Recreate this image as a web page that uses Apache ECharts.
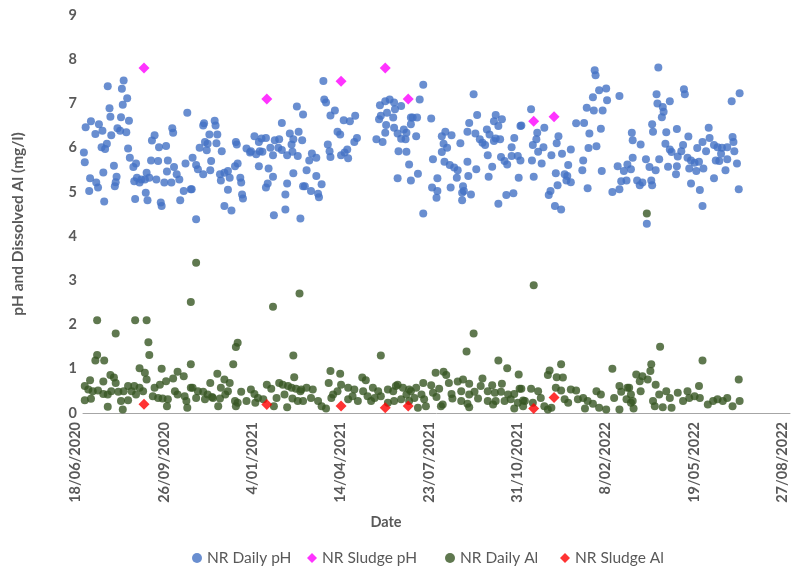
<!DOCTYPE html>
<html>
<head>
<meta charset="utf-8">
<script src="https://cdn.jsdelivr.net/npm/echarts@6/dist/echarts.min.js"></script>
<style>
html,body{margin:0;padding:0;background:#fff;}
#chart{width:797px;height:566px;}
</style>
</head>
<body>
<div id="chart"></div>
<script>
// x values are days since 18/06/2020
const baseDateUTC = Date.UTC(2020, 5, 18);
const xTickDays = [0, 100, 200, 300, 400, 500, 600, 700, 800];
const yTicks = [0, 1, 2, 3, 4, 5, 6, 7, 8, 9];
const seriesNames = ["NR Daily pH", "NR Sludge pH", "NR Daily Al", "NR Sludge Al"];

const dailyPH = [
[46,7.52],[28,7.39],[44,7.33],[50,7.12],[45,6.97],[30,6.89],[118,6.79],[31,6.70],[43,6.69],[52,6.61],[9,6.60],[3,6.46],[18,6.53],[22,6.38],[14,6.31],[39,6.44],[42,6.38],[49,6.35],[32,6.28],[101,6.44],[102,6.34],[81,6.28],[78,6.16],[27,6.09],[21,6.01],[25,5.97],[86,6.01],[94,6.04],[51,5.98],[1,5.89],[53,5.77],[2,5.67],[35,5.59],[60,5.64],[57,5.56],[77,5.71],[85,5.70],[96,5.71],[116,5.64],[103,5.56],[95,5.46],[23,5.44],[8,5.31],[38,5.34],[37,5.22],[15,5.21],[17,5.10],[7,5.02],[36,5.13],[58,5.24],[64,5.21],[72,5.43],[70,5.28],[75,5.32],[83,5.28],[92,5.21],[106,5.40],[109,5.28],[100,5.21],[66,5.28],[61,5.32],[71,4.98],[114,5.02],[122,5.06],[59,4.84],[73,4.81],[88,4.76],[89,4.68],[24,4.78],[110,4.81],
[242,6.93],[249,6.75],[137,6.55],[136,6.50],[149,6.61],[150,6.50],[225,6.56],[143,6.30],[152,6.30],[132,6.00],[138,6.13],[141,6.09],[151,6.10],[140,5.94],[157,5.92],[173,6.13],[174,6.07],[185,5.98],[189,5.89],[190,5.92],[196,5.85],[200,5.92],[194,6.26],[199,6.13],[202,6.21],[207,6.22],[203,5.91],[212,6.00],[215,5.83],[217,6.17],[222,6.19],[221,6.00],[225,5.95],[231,5.83],[234,6.32],[238,6.19],[236,6.07],[237,5.91],[244,6.36],[243,5.81],[248,6.17],
[124,5.77],[128,5.61],[130,5.51],[136,5.40],[145,5.70],[144,5.49],[155,5.40],[160,5.43],[164,5.47],[166,5.32],[156,5.26],[172,5.58],[175,5.64],[178,5.32],[179,5.21],[164,5.05],[180,4.94],[181,4.85],[199,5.58],[210,5.53],[215,5.34],[209,5.19],[207,5.10],[231,5.19],[238,5.42],[229,4.94],[123,5.06],[160,4.68],[168,4.58],[128,4.38],[216,4.47],[229,4.60],[246,4.40],[249,5.13],
[272,7.51],[273,7.09],[275,7.02],[285,6.84],[280,6.73],[295,6.62],[302,6.60],[308,6.72],[288,6.36],[291,6.30],[310,6.22],[307,6.13],[277,6.07],[279,5.92],[280,5.79],[259,5.87],[256,5.71],[264,5.77],[292,5.83],[299,5.96],[300,5.76],[296,5.89],[253,5.49],[264,5.36],[251,5.13],[258,5.02],[266,4.96],[267,4.88],[270,5.17],
[336,6.96],[342,7.05],[347,7.09],[352,7.02],[360,6.94],[353,6.87],[337,6.72],[335,6.64],[344,6.79],[351,6.68],[371,6.68],[343,6.51],[352,6.45],[342,6.34],[332,6.19],[339,6.13],[356,6.32],[360,6.20],[363,6.41],[366,6.34],[365,6.19],[371,6.53],[357,5.92],[366,5.91],[369,5.62],[356,5.31],[371,5.26],
[385,7.42],[381,7.09],[442,7.21],[373,6.68],[378,6.68],[394,6.66],[377,6.26],[396,5.74],[406,6.26],[410,6.36],[417,6.28],[408,6.09],[412,6.00],[406,5.90],[427,6.10],[409,5.68],[415,5.61],[420,5.55],[424,5.49],[423,5.32],[435,5.68],[436,5.36],[445,5.51],[401,5.31],[395,5.10],[401,5.02],[400,4.87],[416,5.10],[430,5.13],[431,5.02],[429,4.98],[439,4.94],[429,4.81],[437,6.56],[446,6.74],[435,6.36],[444,6.32],[449,6.19],[452,6.11],[455,6.06],[458,5.83],[457,6.41],[460,6.30],[465,6.60],[467,6.74],[474,6.64],[470,6.49],[465,6.15],[467,6.21],[472,6.19],[488,6.22],[485,6.01],[495,6.49],[463,5.57],[459,5.34],[473,5.79],[477,5.70],[480,5.62],[485,5.81],[492,5.81],[495,5.71],[493,5.32],[479,4.93],[487,4.97],[470,4.73],[379,5.41],[385,4.51],
[579,7.75],[580,7.64],[584,7.30],[592,7.34],[577,7.14],[593,7.07],[607,7.17],[570,6.90],[578,6.84],[588,6.84],[507,6.87],[496,6.50],[522,6.45],[514,6.34],[558,6.55],[567,6.56],[573,6.32],[586,6.43],[538,6.26],[536,6.10],[513,6.19],[509,6.06],[521,6.01],[515,5.91],[530,5.83],[542,5.86],[552,5.96],[572,5.99],[581,6.03],[508,5.71],[519,5.64],[549,5.61],[566,5.71],[565,5.49],[587,5.47],[510,5.34],[535,5.42],[545,5.40],[548,5.36],[547,5.26],[552,5.22],[537,5.15],[529,5.02],[527,4.93],[571,5.08],[534,4.68],[541,4.60],[605,5.58],[612,5.47],[616,5.62],[620,5.51],[609,5.24],[615,5.26],[607,5.06],[599,5.00],[621,6.34],[622,6.17],
[651,7.81],[680,7.32],[681,7.21],[649,7.21],[664,7.05],[650,7.00],[656,6.92],[657,6.81],[655,6.69],[734,7.05],[743,7.23],[644,6.53],[645,6.36],[631,6.07],[660,6.35],[672,6.42],[685,6.25],[659,6.09],[664,5.96],[666,5.90],[679,6.06],[677,5.92],[673,5.80],[708,6.45],[709,6.22],[701,6.13],[705,5.92],[714,6.06],[718,6.01],[723,6.00],[729,6.01],[735,6.24],[736,6.13],[737,5.92],[722,5.86],[729,5.74],[740,5.64],[716,5.71],[720,5.70],[695,5.99],[684,5.77],[688,5.71],[692,5.66],[697,5.68],[686,5.53],[694,5.47],[702,5.53],[622,5.77],[637,5.74],[652,5.74],[641,5.56],[648,5.49],[662,5.57],[672,5.58],[671,5.40],[627,5.26],[633,5.21],[643,5.26],[644,5.15],[630,5.15],[688,5.19],[698,5.04],[701,4.68],[714,5.31],[727,5.49],[742,5.06],[638,4.28]
];

const sludgePH = [[69,7.8],[208,7.1],[292,7.5],[342,7.8],[368,7.1],[510,6.6],[533,6.7]];

const dailyAl = [
[122,2.51],[16,2.10],[59,2.10],[72,2.10],[37,1.80],[74,1.60],[75,1.31],[16,1.31],[14,1.19],[24,1.19],[122,1.10],[64,1.01],[70,0.91],[72,0.76],[89,1.00],[107,0.93],[114,0.83],[31,0.86],[35,0.80],[37,0.68],[23,0.71],[8,0.74],[2,0.61],[102,0.78],[94,0.72],[87,0.64],[81,0.57],[51,0.61],[58,0.61],[64,0.57],[46,0.49],[6,0.53],[11,0.49],[17,0.51],[23,0.43],[32,0.49],[40,0.48],[28,0.42],[2,0.29],[9,0.32],[28,0.14],[43,0.27],[45,0.08],[51,0.29],[79,0.38],[85,0.34],[90,0.33],[96,0.31],[95,0.15],[104,0.49],[107,0.42],[115,0.38],[117,0.27],[118,0.12],[122,0.57],[55,0.49],[60,0.42],[68,0.49],
[128,3.40],[215,2.40],[245,2.70],[175,1.59],[173,1.49],[170,1.10],[238,1.30],[239,0.81],[152,0.89],[160,0.76],[166,0.68],[144,0.68],[124,0.57],[130,0.49],[136,0.48],[141,0.42],[146,0.36],[156,0.57],[161,0.42],[164,0.49],[179,0.48],[190,0.53],[194,0.43],[208,0.64],[213,0.55],[222,0.68],[226,0.64],[232,0.61],[236,0.57],[241,0.55],[246,0.49],[128,0.34],[138,0.31],[147,0.34],[155,0.33],[172,0.27],[175,0.23],[185,0.27],[198,0.34],[204,0.31],[219,0.34],[228,0.42],[237,0.33],[243,0.27],[153,0.15],[173,0.15],[195,0.23],[231,0.13],[216,0.15],
[337,1.30],[280,0.95],[291,0.89],[278,0.68],[292,0.64],[316,0.80],[320,0.74],[356,0.64],[247,0.53],[253,0.57],[260,0.53],[283,0.42],[288,0.49],[300,0.57],[307,0.53],[317,0.49],[328,0.57],[334,0.49],[345,0.53],[351,0.49],[354,0.61],[362,0.57],[369,0.53],[249,0.27],[258,0.34],[266,0.27],[270,0.15],[275,0.10],[281,0.34],[300,0.31],[305,0.38],[311,0.27],[322,0.38],[326,0.27],[330,0.34],[337,0.38],[345,0.23],[352,0.27],[360,0.31],[366,0.42],[369,0.27],
[442,1.80],[434,1.39],[470,1.19],[480,1.01],[493,0.87],[399,0.91],[408,0.93],[411,0.86],[414,0.68],[385,0.68],[377,0.57],[394,0.63],[403,0.55],[424,0.71],[430,0.76],[437,0.66],[452,0.78],[463,0.63],[474,0.66],[494,0.55],[371,0.49],[383,0.42],[396,0.46],[417,0.43],[428,0.49],[437,0.42],[443,0.48],[450,0.61],[458,0.49],[466,0.46],[473,0.48],[481,0.42],[488,0.43],[375,0.34],[386,0.31],[400,0.36],[407,0.19],[418,0.33],[428,0.27],[435,0.21],[447,0.33],[458,0.27],[467,0.27],[477,0.27],[484,0.31],[492,0.23],[498,0.28],[379,0.12],[388,0.15],[405,0.15],[437,0.13],[464,0.19],[488,0.10],
[510,2.89],[541,1.10],[599,1.00],[528,0.96],[526,0.86],[536,0.81],[543,0.80],[496,0.55],[507,0.55],[515,0.49],[535,0.57],[541,0.51],[552,0.53],[558,0.51],[581,0.49],[586,0.42],[607,0.61],[616,0.57],[609,0.48],[500,0.27],[509,0.23],[518,0.34],[522,0.15],[530,0.12],[545,0.31],[549,0.23],[560,0.31],[566,0.34],[571,0.27],[577,0.21],[584,0.12],[592,0.08],[601,0.34],[607,0.08],[615,0.31],[620,0.23],[498,0.15],[526,0.08],[568,0.10],
[653,1.50],[701,1.19],[742,0.76],[643,1.10],[642,0.95],[626,0.87],[633,0.83],[630,0.72],[639,0.76],[648,0.64],[631,0.49],[618,0.57],[620,0.42],[622,0.27],[623,0.10],[645,0.27],[647,0.15],[652,0.42],[656,0.13],[660,0.49],[664,0.34],[666,0.12],[673,0.46],[679,0.27],[684,0.49],[686,0.34],[692,0.38],[697,0.61],[698,0.34],[707,0.19],[713,0.27],[718,0.31],[724,0.27],[729,0.34],[735,0.15],[743,0.27],[638,4.51]
];

const sludgeAl = [[69,0.2],[208,0.19],[292,0.16],[342,0.12],[368,0.16],[510,0.1],[533,0.35]];

function fmtDay(v) {
  const d = new Date(baseDateUTC + v * 86400000);
  const dd = d.getUTCDate();
  const mm = String(d.getUTCMonth() + 1).padStart(2, '0');
  return '{b|' + dd + '/' + mm + '/' + d.getUTCFullYear() + '}';
}

const FONT = 'Lato';
const TXT = '#595959';
const legendLefts = [187, 302, 440, 555];
const boldRich = {b: {fontFamily: FONT, fontWeight: 'bold', fontSize: 14.5, color: TXT}};

const chart = echarts.init(document.getElementById('chart'), null, {renderer: 'canvas'});
chart.setOption({
  animation: false,
  backgroundColor: '#ffffff',
  textStyle: {fontFamily: FONT},
  grid: {left: 83, right: 7, top: 15, bottom: 153, containLabel: false},
  xAxis: {
    type: 'value',
    min: xTickDays[0], max: xTickDays[xTickDays.length - 1], interval: 100,
    axisLine: {show: true, lineStyle: {color: '#A6A6A6', width: 1}},
    axisTick: {show: false},
    splitLine: {show: false},
    axisLabel: {
      rotate: 90, margin: 9, color: TXT, fontSize: 14.5, fontWeight: 'bold', fontFamily: FONT,
      verticalAlign: 'bottom',
      formatter: fmtDay,
      rich: boldRich
    }
  },
  yAxis: {
    type: 'value', min: yTicks[0], max: yTicks[yTicks.length - 1], interval: 1,
    axisLine: {show: false}, axisTick: {show: false}, splitLine: {show: false},
    axisLabel: {color: TXT, fontSize: 14.5, fontWeight: 'bold', fontFamily: FONT, margin: 6,
      formatter: v => '{b|' + v + '}', rich: boldRich}
  },
  legend: seriesNames.map((n, i) => ({
    data: [n], left: legendLefts[i], top: 545, itemWidth: 10, itemHeight: 10,
    textStyle: {color: TXT, fontSize: 15.5, fontFamily: FONT}
  })),
  graphic: [
    {type: 'text', x: 386, y: 522, style: {text: 'Date', fill: TXT, font: 'bold 14.5px Lato', textAlign: 'center', textVerticalAlign: 'middle'}},
    {type: 'text', x: 18, y: 224, rotation: Math.PI / 2, style: {text: 'pH and Dissolved Al (mg/l)', fill: TXT, font: 'bold 15.5px Lato', textAlign: 'center', textVerticalAlign: 'middle'}}
  ],
  series: [
    {name: seriesNames[0], type: 'scatter', data: dailyPH, symbol: 'circle', symbolSize: 8, itemStyle: {color: '#4472C4'}, z: 2},
    {name: seriesNames[1], type: 'scatter', data: sludgePH, symbol: 'diamond', symbolSize: 11, itemStyle: {color: '#FF00FF'}, z: 3},
    {name: seriesNames[2], type: 'scatter', data: dailyAl, symbol: 'circle', symbolSize: 8, itemStyle: {color: '#375623'}, z: 4},
    {name: seriesNames[3], type: 'scatter', data: sludgeAl, symbol: 'diamond', symbolSize: 11, itemStyle: {color: '#FF0000'}, z: 5}
  ]
});
</script>
</body>
</html>
